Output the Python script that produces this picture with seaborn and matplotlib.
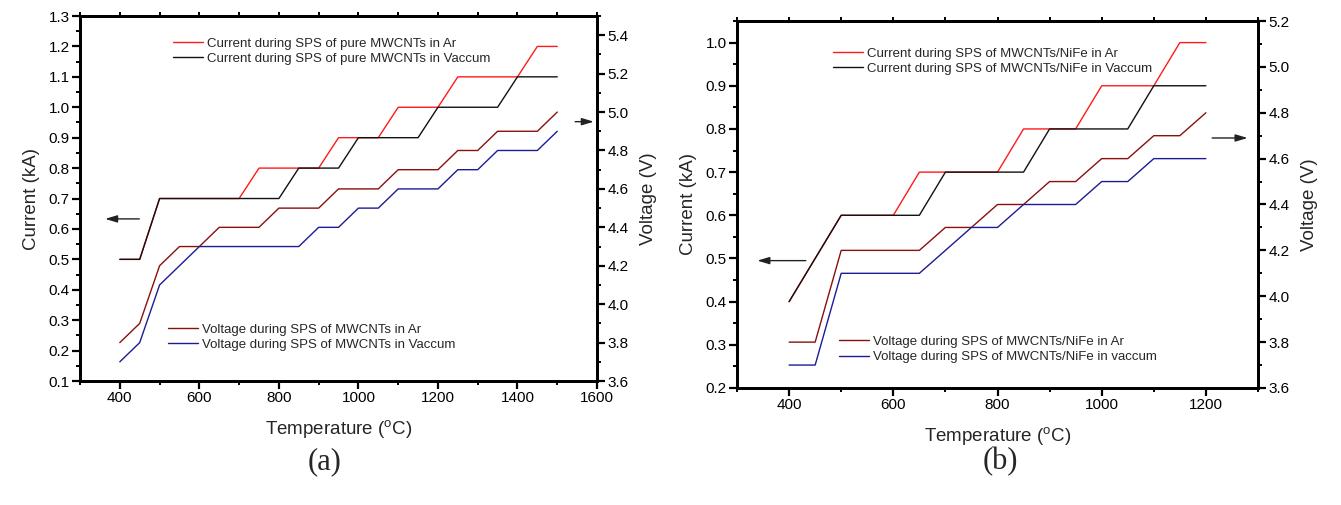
import matplotlib
matplotlib.use("Agg")
import matplotlib.pyplot as plt
from matplotlib.ticker import MultipleLocator, NullFormatter
import pandas as pd
import seaborn as sns

# ---------------- panel (a): pure MWCNTs ----------------
a_cur_ar_T = [400, 450, 500, 700, 750, 900, 950, 1050, 1100, 1200, 1250, 1400, 1450, 1500]
a_cur_ar = [0.5, 0.5, 0.7, 0.7, 0.8, 0.8, 0.9, 0.9, 1.0, 1.0, 1.1, 1.1, 1.2, 1.2]
a_cur_vac_T = [400, 450, 500, 800, 850, 950, 1000, 1150, 1200, 1350, 1400, 1500]
a_cur_vac = [0.5, 0.5, 0.7, 0.7, 0.8, 0.8, 0.9, 0.9, 1.0, 1.0, 1.1, 1.1]
a_volt_ar_T = [400, 450, 500, 550, 600, 650, 750, 800, 900, 950, 1050, 1100, 1200, 1250, 1300, 1350, 1450, 1500]
a_volt_ar = [3.8, 3.9, 4.2, 4.3, 4.3, 4.4, 4.4, 4.5, 4.5, 4.6, 4.6, 4.7, 4.7, 4.8, 4.8, 4.9, 4.9, 5.0]
a_volt_vac_T = [400, 450, 500, 600, 850, 900, 950, 1000, 1050, 1100, 1200, 1250, 1300, 1350, 1450, 1500]
a_volt_vac = [3.7, 3.8, 4.1, 4.3, 4.3, 4.4, 4.4, 4.5, 4.5, 4.6, 4.6, 4.7, 4.7, 4.8, 4.8, 4.9]

# ---------------- panel (b): MWCNTs/NiFe ----------------
b_cur_ar_T = [400, 500, 600, 650, 800, 850, 950, 1000, 1100, 1150, 1200]
b_cur_ar = [0.4, 0.6, 0.6, 0.7, 0.7, 0.8, 0.8, 0.9, 0.9, 1.0, 1.0]
b_cur_vac_T = [400, 500, 650, 700, 850, 900, 1050, 1100, 1200]
b_cur_vac = [0.4, 0.6, 0.6, 0.7, 0.7, 0.8, 0.8, 0.9, 0.9]
b_volt_ar_T = [400, 450, 500, 650, 700, 750, 800, 850, 900, 950, 1000, 1050, 1100, 1150, 1200]
b_volt_ar = [3.8, 3.8, 4.2, 4.2, 4.3, 4.3, 4.4, 4.4, 4.5, 4.5, 4.6, 4.6, 4.7, 4.7, 4.8]
b_volt_vac_T = [400, 450, 500, 650, 750, 800, 850, 950, 1000, 1050, 1100, 1200]
b_volt_vac = [3.7, 3.7, 4.1, 4.1, 4.3, 4.3, 4.4, 4.4, 4.5, 4.5, 4.6, 4.6]

a_labels = ["Current during SPS of pure MWCNTs in Ar",
            "Current during SPS of pure MWCNTs in Vaccum",
            "Voltage during SPS of MWCNTs in Ar",
            "Voltage during SPS of MWCNTs in Vaccum"]
b_labels = ["Current during SPS of MWCNTs/NiFe in Ar",
            "Current during SPS of MWCNTs/NiFe in Vaccum",
            "Voltage during SPS of MWCNTs/NiFe in Ar",
            "Voltage during SPS of MWCNTs/NiFe in vaccum"]

RED, BLACK, DARKRED, NAVY = "#ff1a1a", "#111111", "#8a0f0f", "#1c1c96"

sns.set_theme(style="ticks")
plt.rcParams["font.family"] = ["Liberation Sans", "DejaVu Sans"]
plt.rcParams["mathtext.fontset"] = "custom"
plt.rcParams["mathtext.rm"] = "Liberation Sans"

fig = plt.figure(figsize=(13.41, 5.05), dpi=100)
fig.patch.set_facecolor("white")


def series(ax, T, vals, color):
    df = pd.DataFrame({"T": T, "v": vals})
    sns.lineplot(data=df, x="T", y="v", ax=ax, color=color, lw=1.0,
                 sort=False, estimator=None)
    return ax.lines[-1]


def style_axis(ax):
    for s in ax.spines.values():
        s.set_linewidth(2.0)
        s.set_color("black")
    ax.tick_params(which="major", length=5.5, width=1.6, labelsize=11,
                   colors="black", pad=2)
    ax.tick_params(which="minor", length=3, width=1.4, colors="black")
    ax.set_facecolor("none")


def panel(rect, data, labels, xlim, ylim, ylim2, ymaj, ymin, y2maj, y2min,
          arrows, leg_pos, tag, tag_x):
    ax = fig.add_axes(rect)
    ax2 = ax.twinx()
    (cT, cA, vT, vA, wT, wB, uT, uB) = data
    h1 = series(ax, cT, cA, RED)
    h2 = series(ax, vT, vA, BLACK)
    h3 = series(ax2, wT, wB, DARKRED)
    h4 = series(ax2, uT, uB, NAVY)

    ax.set_xlim(*xlim)
    ax.set_ylim(*ylim)
    ax2.set_ylim(*ylim2)
    ax.xaxis.set_major_locator(MultipleLocator(200))
    ax.xaxis.set_minor_locator(MultipleLocator(100))
    ax.yaxis.set_major_locator(MultipleLocator(ymaj))
    ax.yaxis.set_minor_locator(MultipleLocator(ymin))
    ax2.yaxis.set_major_locator(MultipleLocator(y2maj))
    ax2.yaxis.set_minor_locator(MultipleLocator(y2min))
    ax.yaxis.set_major_formatter(plt.FormatStrFormatter("%.1f"))
    ax2.yaxis.set_major_formatter(plt.FormatStrFormatter("%.1f"))

    style_axis(ax)
    style_axis(ax2)
    ax.tick_params(axis="x", which="both", top=False, direction="out")

    # short unlabelled ticks along the top frame every 100 degrees
    top = ax.secondary_xaxis("top")
    top.xaxis.set_major_locator(MultipleLocator(100))
    top.xaxis.set_major_formatter(NullFormatter())
    top.tick_params(length=3, width=1.4, colors="black")
    top.spines["top"].set_linewidth(2.0)

    ax.set_xlabel("Temperature ($\\mathregular{^{o}}$C)", fontsize=13.5, labelpad=9)
    ax.set_ylabel("Current (kA)", fontsize=13.5, labelpad=6)
    ax2.set_ylabel("Voltage (V)", fontsize=13.5, labelpad=8)

    (l_from, l_to, l_y), (r_from, r_to, r_y) = arrows
    ax.annotate("", xy=(l_to, l_y), xytext=(l_from, l_y),
                arrowprops=dict(arrowstyle="-|>,head_length=0.6,head_width=0.18",
                                color="#222222", lw=1.0, shrinkA=0, shrinkB=0))
    ax2.annotate("", xy=(r_to, r_y), xytext=(r_from, r_y),
                 arrowprops=dict(arrowstyle="-|>,head_length=0.6,head_width=0.18",
                                 color="#222222", lw=1.0, shrinkA=0, shrinkB=0))

    (ux, uy), (lx, ly) = leg_pos
    leg_kw = dict(frameon=False, fontsize=9.5, handlelength=2.3,
                  handletextpad=0.3, labelspacing=0.22, borderpad=0,
                  borderaxespad=0, loc="center left")
    leg1 = ax2.legend([h1, h2], labels[:2], bbox_to_anchor=(ux, uy), **leg_kw)
    ax2.add_artist(leg1)
    ax2.legend([h3, h4], labels[2:], bbox_to_anchor=(lx, ly), **leg_kw)

    fig.text(tag_x, 0.085, tag, ha="center", va="center", fontsize=22,
             family=["Liberation Serif", "DejaVu Serif"])
    return ax, ax2


panel([0.0597, 0.2455, 0.3855, 0.7228],
      (a_cur_ar_T, a_cur_ar, a_cur_vac_T, a_cur_vac,
       a_volt_ar_T, a_volt_ar, a_volt_vac_T, a_volt_vac),
      a_labels, (300, 1600), (0.1, 1.3), (3.6, 5.5), 0.1, 0.05, 0.2, 0.1,
      ((449, 363, 0.633), (1545, 1592, 4.95)),
      ((0.18, 0.904), (0.170, 0.1205)), "(a)", 325 / 1341)

panel([0.5496, 0.2317, 0.3885, 0.7267],
      (b_cur_ar_T, b_cur_ar, b_cur_vac_T, b_cur_vac,
       b_volt_ar_T, b_volt_ar, b_volt_vac_T, b_volt_vac),
      b_labels, (300, 1300), (0.2, 1.05), (3.6, 5.2), 0.1, 0.05, 0.2, 0.1,
      ((432, 339, 0.495), (1212, 1280, 4.69)),
      ((0.184, 0.891), (0.196, 0.105)), "(b)", 1000 / 1341)

fig.savefig("out.png", dpi=100, facecolor="white")
